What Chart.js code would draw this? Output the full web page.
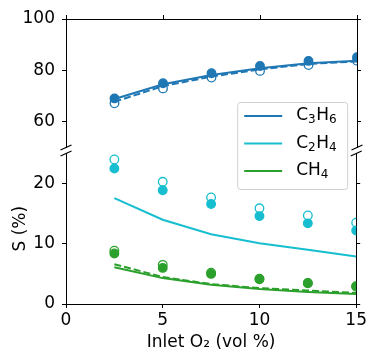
<!DOCTYPE html>
<html>
<head>
<meta charset="utf-8">
<script src="https://cdn.jsdelivr.net/npm/chart.js@4.4.0/dist/chart.umd.min.js"></script>
<style>
html, body { margin: 0; padding: 0; background: #fff; overflow: hidden; }
#wrap { position: relative; width: 369px; height: 351px; }
canvas { position: absolute; left: 0; top: 0; }
</style>
</head>
<body>
<div id="wrap">
<canvas id="topChart" width="369" height="351"></canvas>
<canvas id="botChart" width="369" height="351"></canvas>
</div>
<script>
// inlet O2 (vol %)
const o2 = [2.5, 5, 7.5, 10, 12.5, 15];

// C3H6 selectivity
const c3h6Filled = [69.1, 75.0, 78.9, 81.7, 83.7, 85.1];
const c3h6Open = [67.2, 73.0, 77.2, 79.8, 82.1, 83.8];
const c3h6Solid = [68.9, 74.6, 78.2, 80.8, 82.8, 83.8];
const c3h6Dashed = [67.8, 73.9, 77.6, 80.4, 82.5, 83.5];

// C2H4 selectivity
const c2h4Filled = [22.5, 18.9, 16.6, 14.6, 13.4, 12.2];
const c2h4Open = [24.0, 20.3, 17.7, 15.9, 14.7, 13.5];
const c2h4Solid = [17.6, 14.0, 11.6, 10.1, 9.0, 7.9];

// CH4 selectivity
const ch4Filled = [8.4, 6.0, 5.0, 4.1, 3.45, 2.9];
const ch4Open = [8.85, 6.5, 5.2, 4.2, 3.5, 2.95];
const ch4Solid = [6.1, 4.3, 3.2, 2.5, 2.0, 1.65];
const ch4Dashed = [6.6, 4.5, 3.3, 2.65, 2.25, 1.85];

const xTicks = [0, 5, 10, 15];
const topTicks = [60, 80, 100];
const botTicks = [0, 10, 20];

const legendNames = ["C₃H₆", "C₂H₄", "CH₄"];
const legendColors = ["#1f77b4", "#17becf", "#2ca02c"];

Chart.defaults.font.family = "'DejaVu Sans', sans-serif";
Chart.defaults.font.size = 17;
Chart.defaults.color = "#000";

function pts(ys) {
    return ys.map((y, i) => ({ x: o2[i], y: y }));
}

function lineSet(ys, color, dashed) {
    return {
        data: pts(ys),
        borderColor: color,
        borderWidth: 2,
        borderDash: dashed ? [7, 3] : [],
        pointRadius: 0,
        tension: 0,
        fill: false,
        clip: 0,
        order: dashed ? 4 : 3
    };
}

function dotSet(ys, color, filled) {
    return {
        data: pts(ys),
        showLine: false,
        pointRadius: 4.3,
        pointBorderWidth: 1.3,
        pointBorderColor: color,
        pointBackgroundColor: filled ? color : "rgba(0,0,0,0)",
        clip: 0,
        order: filled ? 1 : 2
    };
}

function setTicks(list) {
    return scale => {
        scale.ticks = list.map(v => ({ value: v }));
    };
}

const tickGrid = {
    drawOnChartArea: false,
    drawTicks: true,
    tickLength: 4,
    tickColor: "#000",
    tickWidth: 1
};

const spine = { display: true, color: "#000", width: 1 };

// little "//" marks where the axis is broken
function breakMarks(edge) {
    return {
        id: "breakMarks",
        afterDraw(chart) {
            const ctx = chart.ctx;
            const a = chart.chartArea;
            const y = edge === "bottom" ? a.bottom : a.top;
            ctx.save();
            ctx.strokeStyle = "#000";
            ctx.lineWidth = 1.2;
            [a.left, a.right].forEach(x => {
                ctx.beginPath();
                ctx.moveTo(x - 5.5, y + 2.5);
                ctx.lineTo(x + 5.5, y - 2.5);
                ctx.stroke();
            });
            ctx.restore();
        }
    };
}

// draw a label, turning unicode subscript digits into small lowered digits
const subDigits = "₀₁₂₃₄₅₆₇₈₉";
function drawFormula(ctx, text, x, y) {
    for (const ch of text) {
        const k = subDigits.indexOf(ch);
        if (k >= 0) {
            ctx.font = "12px 'DejaVu Sans', sans-serif";
            ctx.fillText(String(k), x, y + 4);
            x += ctx.measureText(String(k)).width + 0.5;
        } else {
            ctx.font = "17px 'DejaVu Sans', sans-serif";
            ctx.fillText(ch, x, y);
            x += ctx.measureText(ch).width;
        }
    }
}

const legendBox = {
    id: "legendBox",
    afterDraw(chart) {
        const ctx = chart.ctx;
        const right = chart.chartArea.right - 9;
        const left = right - 110;
        const top = 102;
        ctx.save();
        ctx.beginPath();
        ctx.roundRect(left + 0.5, top + 0.5, 110, 87, 3);
        ctx.fillStyle = "rgba(255,255,255,0.8)";
        ctx.fill();
        ctx.strokeStyle = "#d0d0d0";
        ctx.lineWidth = 1;
        ctx.stroke();
        ctx.textBaseline = "middle";
        ctx.fillStyle = "#000";
        legendNames.forEach((name, i) => {
            const y = top + 14 + i * 27.5;
            ctx.beginPath();
            ctx.strokeStyle = legendColors[i];
            ctx.lineWidth = 2;
            ctx.moveTo(left + 7, y);
            ctx.lineTo(left + 45, y);
            ctx.stroke();
            drawFormula(ctx, name, left + 59, y);
        });
        ctx.restore();
    }
};

new Chart(document.getElementById("topChart").getContext("2d"), {
    type: "line",
    data: {
        datasets: [
            dotSet(c3h6Filled, legendColors[0], true),
            dotSet(c3h6Open, legendColors[0], false),
            lineSet(c3h6Solid, legendColors[0], false),
            lineSet(c3h6Dashed, legendColors[0], true)
        ]
    },
    options: {
        responsive: false,
        animation: false,
        layout: { padding: { top: 15, right: 8, bottom: 203.5, left: 0 } },
        plugins: { legend: { display: false }, tooltip: { enabled: false } },
        scales: {
            x: {
                type: "linear",
                position: "top",
                min: 0,
                max: 15,
                afterBuildTicks: setTicks(xTicks),
                ticks: { display: false },
                grid: tickGrid,
                border: spine,
                afterFit: s => { s.height = 4; }
            },
            y: {
                type: "linear",
                position: "left",
                min: 50,
                max: 100,
                afterBuildTicks: setTicks(topTicks),
                ticks: { padding: 7 },
                grid: tickGrid,
                border: spine,
                afterFit: s => { s.width = 66; }
            },
            yR: {
                type: "linear",
                position: "right",
                min: 50,
                max: 100,
                afterBuildTicks: setTicks(topTicks),
                ticks: { display: false },
                grid: tickGrid,
                border: spine,
                afterFit: s => { s.width = 4; }
            }
        }
    },
    plugins: [breakMarks("bottom")]
});

new Chart(document.getElementById("botChart").getContext("2d"), {
    type: "line",
    data: {
        datasets: [
            dotSet(c2h4Filled, legendColors[1], true),
            dotSet(c2h4Open, legendColors[1], false),
            lineSet(c2h4Solid, legendColors[1], false),
            dotSet(ch4Filled, legendColors[2], true),
            dotSet(ch4Open, legendColors[2], false),
            lineSet(ch4Solid, legendColors[2], false),
            lineSet(ch4Dashed, legendColors[2], true)
        ]
    },
    options: {
        responsive: false,
        animation: false,
        layout: { padding: { top: 153.5, right: 8, bottom: 0, left: 0 } },
        plugins: { legend: { display: false }, tooltip: { enabled: false } },
        scales: {
            x: {
                type: "linear",
                position: "bottom",
                min: 0,
                max: 15,
                afterBuildTicks: setTicks(xTicks),
                ticks: { padding: 2 },
                grid: tickGrid,
                border: spine,
                title: {
                    display: true,
                    text: "Inlet O₂ (vol %)",
                    font: { size: 17, lineHeight: 1 },
                    padding: { top: 0, bottom: 0 }
                },
                afterFit: s => { s.height = 47; }
            },
            y: {
                type: "linear",
                position: "left",
                min: 0,
                max: 25,
                afterBuildTicks: setTicks(botTicks),
                ticks: { padding: 7 },
                grid: tickGrid,
                border: spine,
                title: {
                    display: true,
                    text: "S (%)",
                    font: { size: 17 },
                    padding: { top: 10, bottom: 0 }
                },
                afterFit: s => { s.width = 66; }
            },
            yR: {
                type: "linear",
                position: "right",
                min: 0,
                max: 25,
                afterBuildTicks: setTicks(botTicks),
                ticks: { display: false },
                grid: tickGrid,
                border: spine,
                afterFit: s => { s.width = 4; }
            }
        }
    },
    plugins: [breakMarks("top"), legendBox]
});
</script>
</body>
</html>
